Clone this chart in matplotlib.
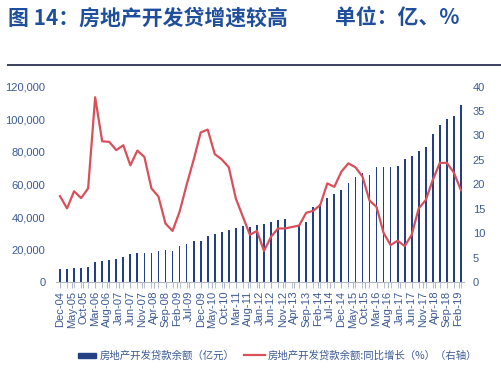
import matplotlib.pyplot as plt
import numpy as np
from matplotlib.ticker import FuncFormatter, MultipleLocator

plt.rcParams['font.family'] = ['Liberation Sans', 'Noto Sans CJK SC', 'DejaVu Sans']

# quarterly data, Dec-04 .. Mar-19
loan_balance = [8260, 8260, 8880, 8880, 9490, 12550, 13160, 13770, 14380, 15790,
                17450, 18060, 18060, 18060, 19400, 19770, 19160, 22220, 23440, 25090,
                25460, 28340, 29560, 30790, 31820, 33050, 34460, 33840, 34880, 35680,
                37090, 38310, 38560, np.nan, 34880, 37090, 45900, 47740, 51780, 53860,
                56690, 60790, 64550, 66710, 65670, 70380, 70380, 70380, 71180, 75280,
                77110, 80540, 82990, 91190, 96270, 100370, 101960, 108510]
yoy_growth = [17.6, 15.1, 18.6, 17.2, 19.2, 37.8, 28.8, 28.7, 27.0, 28.0,
              23.9, 26.9, 25.6, 19.2, 17.5, 12.0, 10.5, 14.4, 19.9, 25.0,
              30.6, 31.2, 26.2, 25.1, 23.5, 17.1, 13.4, 9.7, 10.5, 6.4,
              9.3, 11.0, 11.0, 11.3, 11.6, 14.2, 14.6, 15.8, 20.2, 19.5,
              22.6, 24.3, 23.5, 21.6, 16.7, 15.4, 10.1, 7.6, 8.5, 7.4,
              9.7, 15.1, 16.8, 20.9, 24.4, 24.4, 22.4, 18.8]
tick_labels = ['Dec-04', 'May-05', 'Oct-05', 'Mar-06', 'Aug-06', 'Jan-07', 'Jun-07',
               'Nov-07', 'Apr-08', 'Sep-08', 'Feb-09', 'Jul-09', 'Dec-09', 'May-10',
               'Oct-10', 'Mar-11', 'Aug-11', 'Jan-12', 'Jun-12', 'Nov-12', 'Apr-13',
               'Sep-13', 'Feb-14', 'Jul-14', 'Dec-14', 'May-15', 'Oct-15', 'Mar-16',
               'Aug-16', 'Jan-17', 'Jun-17', 'Nov-17', 'Apr-18', 'Sep-18', 'Feb-19']

title_main = '图 14：房地产开发贷增速较高'
title_unit = '单位：亿、%'
bar_name = '房地产开发贷款余额（亿元）'
line_name = '房地产开发贷款余额:同比增长（%）（右轴）'

navy = '#233f86'
red = '#d9505a'
tick_col = '#3b5a94'
cjk = ['Noto Sans CJK SC', 'DejaVu Sans']
narrow = ['Liberation Sans Narrow', 'Liberation Sans']

months = np.arange(len(loan_balance)) * 3  # months since Dec-04

fig = plt.figure(figsize=(5.02, 3.74), dpi=100)
ax = fig.add_axes([0.1125, 0.2452, 0.8127, 0.5235])
ax2 = ax.twinx()

ax.bar(months, loan_balance, width=0.75, color=navy, zorder=2)
ax2.plot(months, yoy_growth, color=red, lw=1.6, zorder=3)

ax.set_xlim(-1.5, 172.5)
ax.set_ylim(0, 120000)
ax2.set_ylim(0, 40)
ax.yaxis.set_major_locator(MultipleLocator(20000))
ax2.yaxis.set_major_locator(MultipleLocator(5))
ax.yaxis.set_major_formatter(FuncFormatter(lambda v, p: f'{int(v):,}'))

ax.set_xticks(np.arange(len(tick_labels)) * 5)
ax.set_xticklabels(tick_labels, rotation=90, fontsize=8, color=tick_col)
ax.set_xticks(months, minor=True)
ax.tick_params(axis='x', which='both', length=4, color='#b0b8c8', pad=2)
ax.tick_params(axis='y', length=0, labelsize=8, labelcolor=tick_col, pad=8)
ax2.tick_params(axis='y', length=0, labelsize=8, labelcolor=tick_col, pad=6)
for lab in ax.get_yticklabels() + ax2.get_yticklabels():
    lab.set_family(narrow)

for a in (ax, ax2):
    for s in ('top', 'left', 'right'):
        a.spines[s].set_visible(False)
    a.spines['bottom'].set_color('#b0b8c8')
ax2.spines['bottom'].set_visible(False)

# title and rule
fig.text(0.016, 0.952, title_main, fontsize=15, fontweight='bold', color='#1f4e9c',
         va='center', family=cjk)
fig.text(0.667, 0.952, title_unit, fontsize=15, fontweight='bold', color='#1f4e9c',
         va='center', family=cjk)
fig.add_artist(plt.Line2D([0.016, 1.0], [0.826, 0.826], color='#3a3f5f', lw=1.4))

# legend
fig.add_artist(plt.Rectangle((0.155, 0.043), 0.037, 0.014, color=navy))
fig.text(0.198, 0.05, bar_name, fontsize=7.5, color=tick_col, va='center', family=cjk)
fig.add_artist(plt.Line2D([0.487, 0.528], [0.05, 0.05], color=red, lw=1.6))
fig.text(0.533, 0.05, line_name, fontsize=7.5, color=tick_col, va='center', family=cjk)

fig.savefig('out.png', dpi=100)
